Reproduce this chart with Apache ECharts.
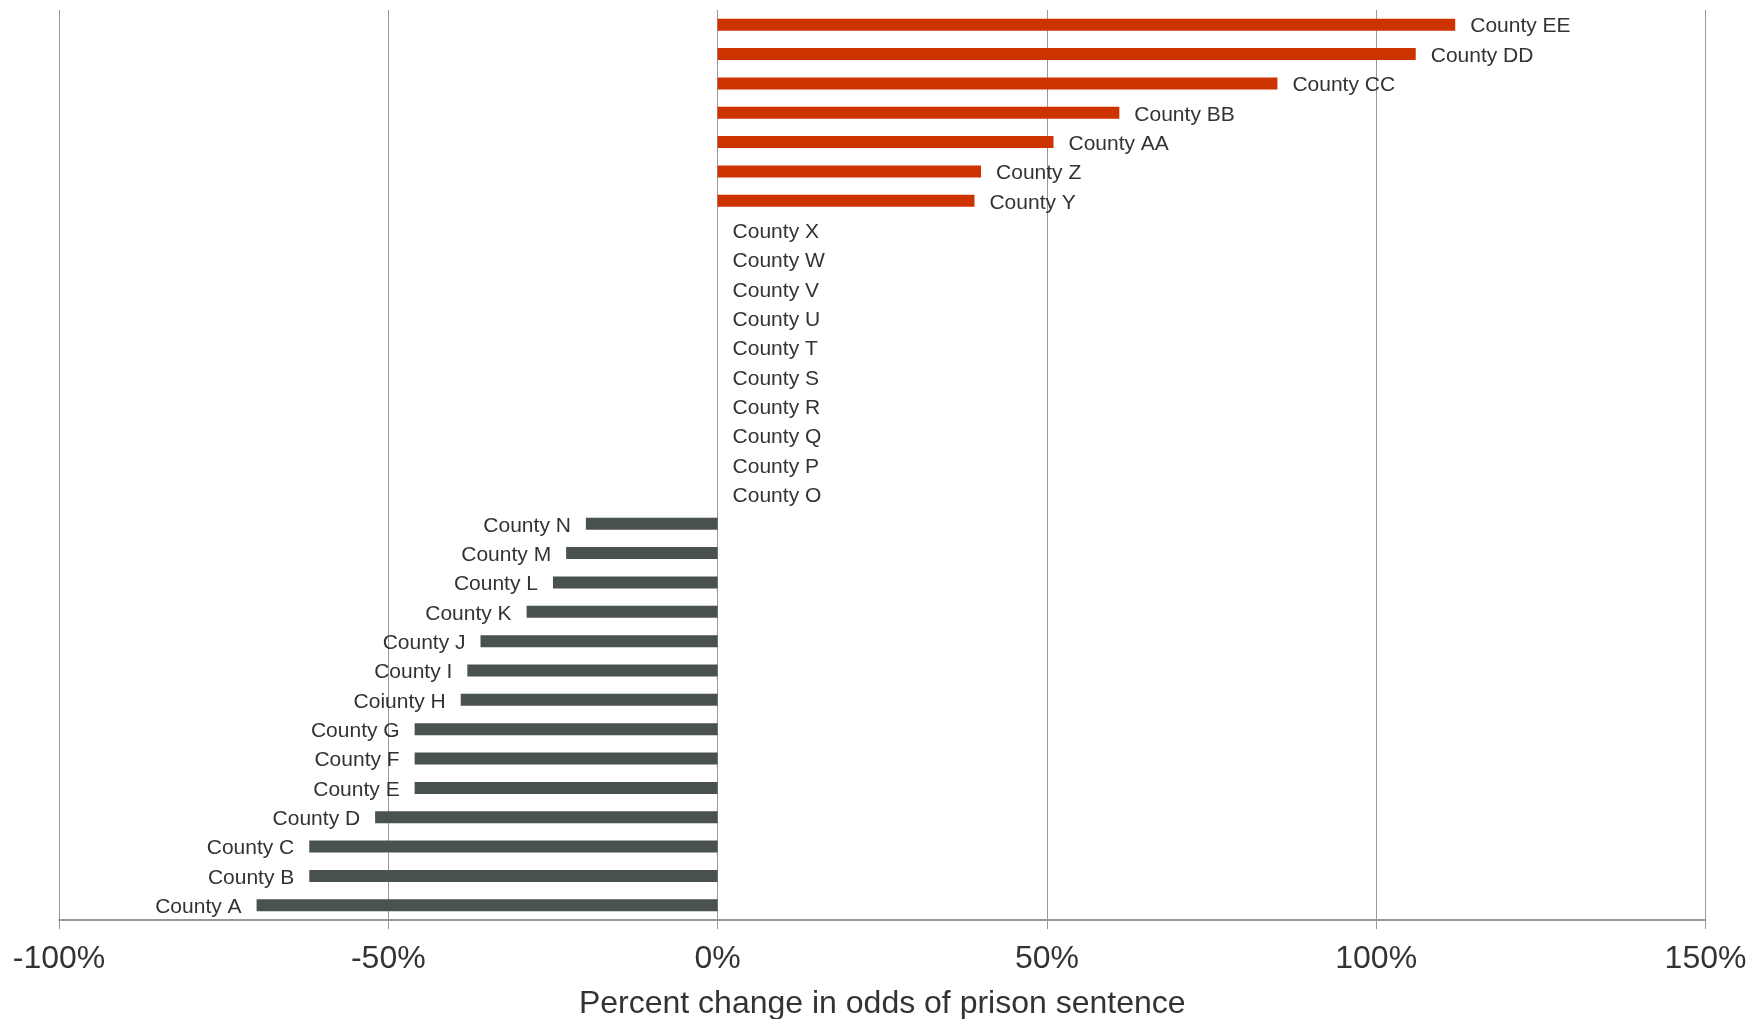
<!DOCTYPE html>
<html>
<head>
<meta charset="utf-8">
<script src="https://cdn.jsdelivr.net/npm/echarts@6/dist/echarts.min.js"></script>
<style>
html,body{margin:0;padding:0;background:#fff;}
#chart{width:1750px;height:1019px;}
</style>
</head>
<body>
<div id="chart"></div>
<script>
const categories = ["County A","County B","County C","County D","County E","County F","County G","Coiunty H","County I","County J","County K","County L","County M","County N","County O","County P","County Q","County R","County S","County T","County U","County V","County W","County X","County Y","County Z","County AA","County BB","County CC","County DD","County EE"];
const values = [-70,-62,-62,-52,-46,-46,-46,-39,-38,-36,-29,-25,-23,-20,0,0,0,0,0,0,0,0,0,0,39,40,51,61,85,106,112];
const xTicks = [-100,-50,0,50,100,150];
const axisTitle = "Percent change in odds of prison sentence";

const FONT = '"Liberation Sans", Arial, sans-serif';
const chart = echarts.init(document.getElementById('chart'));
const data = values.map(v => ({
  value: v,
  itemStyle: { color: v < 0 ? '#4a524e' : '#cc3300' },
  label: { position: v < 0 ? 'left' : 'right' }
}));
chart.setOption({
  animation: false,
  grid: { left: 59, right: 44.5, top: 10, bottom: 99, containLabel: false, outerBoundsMode: 'none' },
  xAxis: {
    type: 'value',
    min: xTicks[0], max: xTicks[xTicks.length-1], interval: 50,
    axisLine: { show: true, lineStyle: { color: '#999', width: 2 } },
    axisTick: { show: true, length: 9, lineStyle: { color: '#999', width: 1 } },
    splitLine: { show: true, lineStyle: { color: '#999', width: 1 } },
    axisLabel: { formatter: v => v + '%', fontSize: 32, color: '#333', fontFamily: FONT, margin: 23 },
    name: axisTitle, nameLocation: 'middle', nameGap: 68,
    nameTextStyle: { fontSize: 32, color: '#333', fontFamily: FONT }
  },
  yAxis: {
    type: 'category', data: categories,
    axisLine: { show: false }, axisTick: { show: false }, axisLabel: { show: false },
    splitLine: { show: false }
  },
  series: [{
    type: 'bar',
    data: data,
    barWidth: 12,
    label: { show: true, formatter: '{b}', distance: 15, offset: [0, 2], fontSize: 21, color: '#333', fontFamily: FONT }
  }]
});
</script>
</body>
</html>
